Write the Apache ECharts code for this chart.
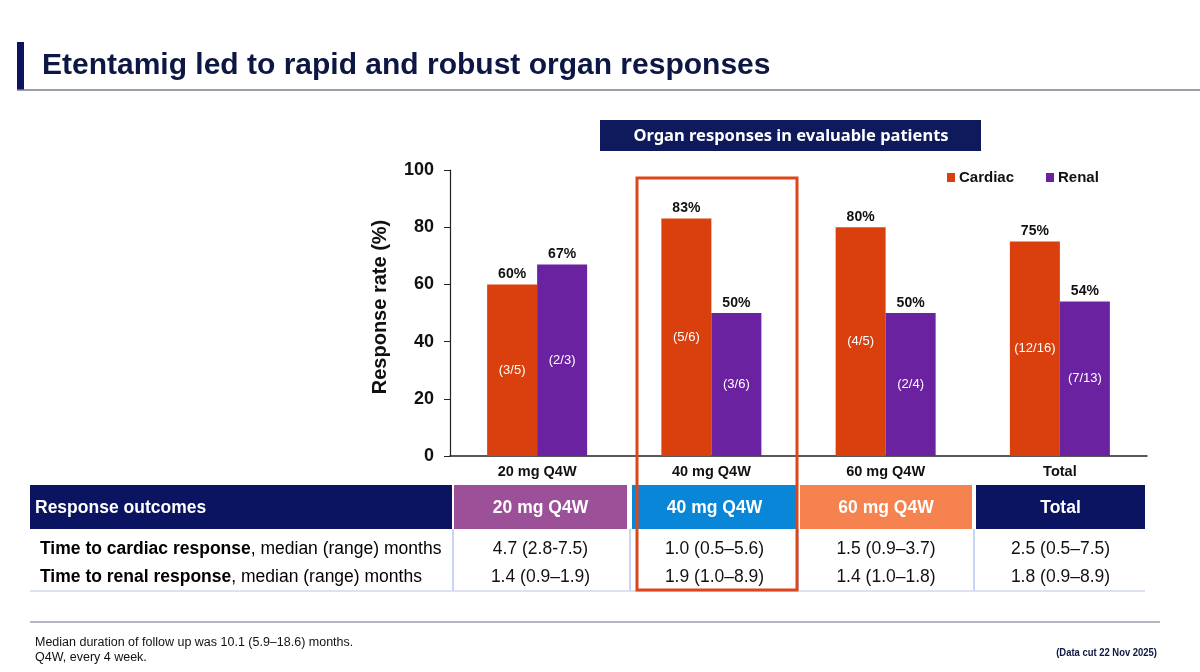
<!DOCTYPE html>
<html>
<head>
<meta charset="utf-8">
<script src="https://cdn.jsdelivr.net/npm/echarts@6/dist/echarts.min.js"></script>
<style>
html,body{margin:0;padding:0;background:#fff;}
#chart{width:1200px;height:672px;}
</style>
</head>
<body>
<div id="chart"></div>
<script>
// ---- data ----
const categories = ['20 mg Q4W', '40 mg Q4W', '60 mg Q4W', 'Total'];
const cardiac = [60, 83, 80, 75];
const renal = [67, 50, 50, 54];
const cardiacN = ['(3/5)', '(5/6)', '(4/5)', '(12/16)'];
const renalN = ['(2/3)', '(3/6)', '(2/4)', '(7/13)'];
const yTicks = [0, 20, 40, 60, 80, 100];
const tableHeaders = ['Response outcomes', '20 mg Q4W', '40 mg Q4W', '60 mg Q4W', 'Total'];
const cardiacTime = ['4.7 (2.8-7.5)', '1.0 (0.5–5.6)', '1.5 (0.9–3.7)', '2.5 (0.5–7.5)'];
const renalTime = ['1.4 (0.9–1.9)', '1.9 (1.0–8.9)', '1.4 (1.0–1.8)', '1.8 (0.9–8.9)'];

// ---- styles ----
const C_CARD = '#d9400e';
const C_REN = '#6b22a0';
const NAVY = '#0b1460';
const headerCols = [
  {x: 30, w: 422, color: NAVY, align: 'left'},
  {x: 454, w: 173, color: '#9c5098'},
  {x: 632, w: 165, color: '#0a86d8'},
  {x: 800, w: 172, color: '#f5824f'},
  {x: 976, w: 169, color: NAVY}
];
const FONT = 'Arial, "Liberation Sans", sans-serif';

const graphics = [];
// title
graphics.push({type:'rect', shape:{x:17,y:42,width:7,height:48}, style:{fill:NAVY}});
graphics.push({type:'line', shape:{x1:17,y1:90,x2:1200,y2:90}, style:{stroke:'#7a7f8c', lineWidth:1.5}});
graphics.push({type:'text', x:42, y:66, style:{text:'Etentamig led to rapid and robust organ responses', font:'bold 30px '+FONT, fill:'#0c1744', textVerticalAlign:'middle'}});
// subtitle box
graphics.push({type:'rect', shape:{x:600,y:120,width:381,height:31}, style:{fill:'#0f1a5c'}});
graphics.push({type:'text', x:791, y:136, style:{text:'Organ responses in evaluable patients', font:'bold 16.5px "Noto Sans", "Open Sans", sans-serif', fill:'#fff', textAlign:'center', textVerticalAlign:'middle'}});
// y axis name
graphics.push({type:'text', x:380, y:307, rotation:Math.PI/2, style:{text:'Response rate (%)', font:'bold 20px '+FONT, fill:'#111', textAlign:'center', textVerticalAlign:'middle'}});
// table header
headerCols.forEach((c, i) => {
  graphics.push({type:'rect', shape:{x:c.x, y:485, width:c.w, height:44}, style:{fill:c.color}});
  const left = c.align === 'left';
  graphics.push({type:'text', x: left ? c.x + 5 : c.x + c.w/2, y:508, style:{text:tableHeaders[i], font:'bold 17.5px '+FONT, fill:'#fff', textAlign: left ? 'left' : 'center', textVerticalAlign:'middle'}});
});
// vertical separators
[453, 630, 798, 974].forEach(x => {
  graphics.push({type:'line', shape:{x1:x,y1:529,x2:x,y2:591}, style:{stroke:'#c9d5f5', lineWidth:2}});
});
graphics.push({type:'line', shape:{x1:30,y1:591,x2:1145,y2:591}, style:{stroke:'#d0d8ee', lineWidth:1.5}});
// rows
const rowY = [549, 577];
const rowLabels = [['Time to cardiac response', ', median (range) months'], ['Time to renal response', ', median (range) months']];
const rowVals = [cardiacTime, renalTime];
rowLabels.forEach((lab, r) => {
  graphics.push({type:'text', x:40, y:rowY[r], style:{text:'{b|'+lab[0]+'}{n|'+lab[1]+'}', rich:{b:{font:'bold 17.5px '+FONT, fill:'#000'}, n:{font:'17.5px '+FONT, fill:'#000'}}, textVerticalAlign:'middle'}});
  rowVals[r].forEach((v, i) => {
    const c = headerCols[i+1];
    graphics.push({type:'text', x:c.x + c.w/2, y:rowY[r], style:{text:v, font:'17.5px '+FONT, fill:'#111', textAlign:'center', textVerticalAlign:'middle'}});
  });
});
// footer
graphics.push({type:'line', shape:{x1:30,y1:622,x2:1160,y2:622}, style:{stroke:'#9aa0b0', lineWidth:1.5}});
graphics.push({type:'text', x:35, y:643, style:{text:'Median duration of follow up was 10.1 (5.9–18.6) months.', font:'12.5px '+FONT, fill:'#111', textVerticalAlign:'middle'}});
graphics.push({type:'text', x:35, y:658, style:{text:'Q4W, every 4 week.', font:'12.5px '+FONT, fill:'#111', textVerticalAlign:'middle'}});
graphics.push({type:'text', x:1157, y:653, scaleX:0.9, style:{text:'(Data cut 22 Nov 2025)', font:'bold 10.5px '+FONT, fill:'#0c1744', textAlign:'right', textVerticalAlign:'middle'}});
// highlight box
graphics.push({type:'rect', z:100, shape:{x:637,y:178,width:160,height:412}, style:{fill:'none', stroke:'#d9471a', lineWidth:3}});

const chart = echarts.init(document.getElementById('chart'));
function pctMarks(vals) {
  return {
    symbol: 'circle', symbolSize: 0,
    itemStyle: {color: 'transparent'},
    label: {show: true, position: 'top', distance: 3, formatter: p => p.value + '%', color: '#111', fontWeight: 'bold', fontSize: 14, fontFamily: FONT},
    data: categories.map((c, i) => ({coord: [c, vals[i]], value: vals[i]}))
  };
}
chart.setOption({
  animation: false,
  textStyle: {fontFamily: FONT},
  graphic: graphics,
  legend: {
    data: ['Cardiac', 'Renal'],
    left: 942, top: 165,
    icon: 'rect', itemWidth: 8, itemHeight: 9, itemGap: 32,
    textStyle: {fontWeight: 'bold', fontSize: 15, color: '#111', fontFamily: FONT, padding: [0, 0, 0, -1]}
  },
  grid: {left: 450, right: 53, top: 170, bottom: 216},
  xAxis: {
    type: 'category', data: categories,
    axisLine: {lineStyle: {color: '#222', width: 1.5}},
    axisTick: {show: false},
    axisLabel: {color: '#111', fontWeight: 'bold', fontSize: 14.5, margin: 8}
  },
  yAxis: {
    type: 'value', min: 0, max: 100, interval: 20,
    axisLine: {show: true, lineStyle: {color: '#222', width: 1.2}},
    axisTick: {show: true, length: 6, lineStyle: {color: '#222'}},
    splitLine: {show: false},
    axisLabel: {color: '#111', fontWeight: 'bold', fontSize: 18, margin: 16}
  },
  series: [
    {
      name: 'Cardiac', type: 'bar', data: cardiac, barWidth: 50, barGap: '0%',
      itemStyle: {color: C_CARD},
      label: {show: true, position: 'inside', formatter: p => cardiacN[p.dataIndex], color: '#fff', fontSize: 13},
      markPoint: pctMarks(cardiac)
    },
    {
      name: 'Renal', type: 'bar', data: renal, barWidth: 50, barGap: '0%',
      itemStyle: {color: C_REN},
      label: {show: true, position: 'inside', formatter: p => renalN[p.dataIndex], color: '#fff', fontSize: 13},
      markPoint: pctMarks(renal)
    }
  ]
});
</script>
</body>
</html>
